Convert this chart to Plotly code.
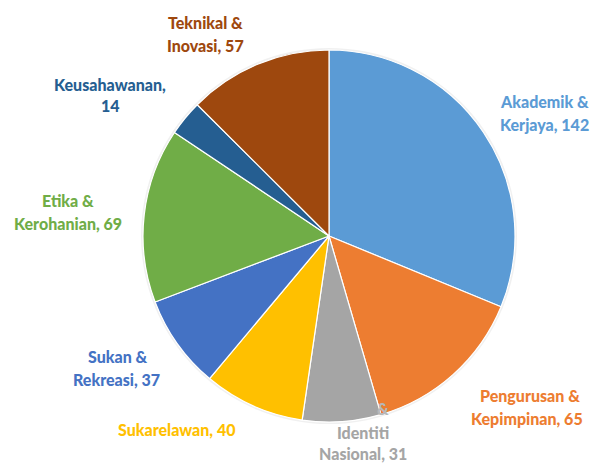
import plotly.graph_objects as go

# Programme categories and counts, clockwise from 12 o'clock
categories = [
    "Akademik & Kerjaya",
    "Pengurusan & Kepimpinan",
    "Identiti Nasional",
    "Sukarelawan",
    "Sukan & Rekreasi",
    "Etika & Kerohanian",
    "Keusahawanan",
    "Teknikal & Inovasi",
]
values = [142, 65, 31, 40, 37, 69, 14, 57]
colors = ["#5B9BD5", "#ED7D31", "#A5A5A5", "#FFC000",
          "#4472C4", "#70AD47", "#255E91", "#9E480E"]

W, H = 594, 463
CX, CY, R = 329, 236, 186

# where each label's lines go (pixel centres of each text line)
label_lines = {
    "Akademik & Kerjaya": [("Akademik &", 544, 101), ("Kerjaya, {v}", 544, 124)],
    "Pengurusan & Kepimpinan": [("Pengurusan &", 530, 395), ("Kepimpinan, {v}", 527, 418)],
    "Identiti Nasional": [("Identiti", 363, 432), ("Nasional, {v}", 363, 453)],
    "Sukarelawan": [("Sukarelawan, {v}", 177, 429)],
    "Sukan & Rekreasi": [("Sukan &", 118, 356), ("Rekreasi, {v}", 116, 379)],
    "Etika & Kerohanian": [("Etika &", 68, 200), ("Kerohanian, {v}", 68, 223)],
    "Keusahawanan": [("Keusahawanan,", 110, 85), ("{v}", 110, 105)],
    "Teknikal & Inovasi": [("Teknikal &", 206, 22), ("Inovasi, {v}", 206, 45)],
}

FONT = dict(family="Lato", size=16, weight=900)

fig = go.Figure()

# soft halo around the pie
fig.add_trace(go.Pie(
    values=[1], marker=dict(colors=["rgba(0,0,0,0.06)"], line=dict(width=0)),
    textinfo="none", hoverinfo="skip", showlegend=False, sort=False,
    domain=dict(x=[(CX - R - 2) / W, (CX + R + 2) / W],
                y=[1 - (CY + R + 2) / H, 1 - (CY - R - 2) / H]),
))

fig.add_trace(go.Pie(
    labels=categories, values=values, sort=False, direction="clockwise",
    rotation=0, textinfo="none", showlegend=False,
    marker=dict(colors=colors, line=dict(color="white", width=1.2)),
    domain=dict(x=[(CX - R) / W, (CX + R) / W],
                y=[1 - (CY + R) / H, 1 - (CY - R) / H]),
))

annotations = []
for cat, val, col in zip(categories, values, colors):
    for text, px, py in label_lines[cat]:
        annotations.append(dict(
            text=text.format(v=val),
            x=px / W, y=1 - py / H, xref="paper", yref="paper",
            xanchor="center", yanchor="middle", showarrow=False,
            font=dict(FONT, color=col),
        ))

# stray ampersand sitting on the grey slice edge
annotations.append(dict(
    text="&", x=383 / W, y=1 - 408 / H, xref="paper", yref="paper",
    xanchor="center", yanchor="middle", showarrow=False,
    font=dict(FONT, color="#B8B8B8"),
))

fig.update_layout(
    width=W, height=H, margin=dict(l=0, r=0, t=0, b=0),
    paper_bgcolor="white", plot_bgcolor="white",
    annotations=annotations,
)

fig.write_html("out.html")
